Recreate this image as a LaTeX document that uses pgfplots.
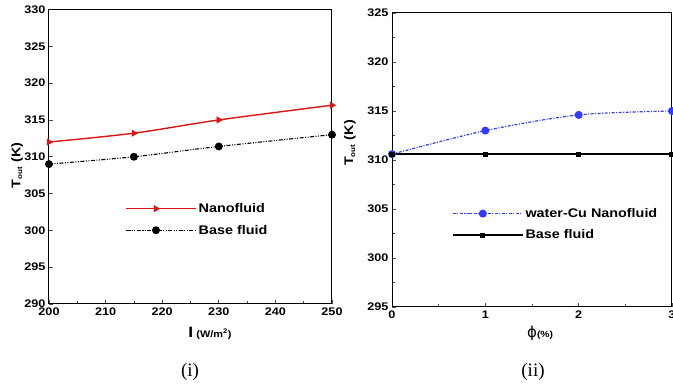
\documentclass[border=0pt]{standalone}
\usepackage{pgfplots}
\pgfplotsset{compat=1.18}
\usepackage{fontspec}
\setmainfont[FakeStretch=1.15]{Liberation Sans}
\newfontfamily\capfont{Liberation Serif}
\newfontfamily\dejavu{DejaVu Sans}
\usetikzlibrary{plotmarks}
\definecolor{myred}{RGB}{220,20,20}
\definecolor{myblue}{RGB}{50,60,255}
\pgfplotsset{
  mystyle/.style={
    scale only axis,
    axis line style={line width=1pt},
    tick pos=left,
    major tick length=4pt,
    minor tick length=3pt,
    tick style={line width=0.6pt, black!70},
    /pgf/number format/assume math mode=true,
    ticklabel style={font=\bfseries\fontsize{11}{13}\selectfont},
    legend style={draw=none, fill=none, inner sep=0pt, row sep=7pt,
      font=\bfseries\fontsize{12.5}{14}\selectfont},
    legend cell align=left,
    legend image code/.code={\path (0pt,0pt) -- (70pt,0pt);\draw[mark repeat=2,mark phase=2,#1] plot coordinates {(0pt,0pt) (30pt,0pt) (60pt,0pt)};},
  }
}
\begin{document}
\begin{tikzpicture}[x=1pt,y=1pt]
\useasboundingbox (0,0) rectangle (673,386);
% ---------- (i) ----------
\begin{axis}[mystyle,
  at={(49pt,82pt)}, anchor=south west,
  width=283pt, height=294.5pt,
  xmin=200, xmax=250, ymin=290, ymax=330,
  xtick={200,210,...,250}, ytick={290,295,...,330},
  minor x tick num=1,
  xlabel={{\bfseries\fontsize{15}{16}\selectfont I} {\bfseries\fontsize{9.5}{10}\selectfont(W/m\textsuperscript{2})}},
  xlabel style={at={(axis description cs:0.569,-0.098)}, anchor=center},
  ylabel={\bfseries\fontsize{12.5}{13}\selectfont T\textsubscript{\fontsize{7}{8}\selectfont out} (K)},
  ylabel style={at={(axis description cs:-0.113,0.47)}, anchor=center},
  legend style={at={(axis description cs:0.269,0.287)}, anchor=west},
]
\addplot[myred, line width=1.4pt, smooth, mark=triangle*, mark size=3.6pt, mark options={rotate=-90, solid, fill=myred, line width=0.5pt}]
  coordinates {(200,312) (215,313.2) (230,315) (250,317)};
\addlegendentry{Nanofluid}
\addplot[black, line width=1.1pt, smooth, dash pattern=on 4pt off 1.5pt on 1pt off 1.5pt on 1pt off 1.5pt, mark=*, mark size=3.4pt, mark options={solid}]
  coordinates {(200,309) (215,310) (230,311.4) (250,313)};
\addlegendentry{Base fluid}
\end{axis}
% ---------- (ii) ----------
\begin{axis}[mystyle,
  at={(392pt,79pt)}, anchor=south west,
  width=280pt, height=294pt,
  xmin=0, xmax=3, ymin=295, ymax=325,
  xtick={0,1,2,3}, ytick={295,300,...,325},
  minor x tick num=1, minor y tick num=1,
  xlabel={{\dejavu\fontsize{15}{16}\selectfont ϕ}{\bfseries\fontsize{9}{10}\selectfont(\%)}},
  xlabel style={at={(axis description cs:0.529,-0.088)}, anchor=center},
  ylabel={\bfseries\fontsize{12.5}{13}\selectfont T\textsubscript{\fontsize{7}{8}\selectfont out} (K)},
  ylabel style={at={(axis description cs:-0.15,0.558)}, anchor=center},
  legend style={at={(axis description cs:0.214,0.281)}, anchor=west},
]
\addplot[myblue, line width=1.2pt, smooth, dash pattern=on 3pt off 1.5pt on 1pt off 1.5pt, mark=*, mark size=3.4pt, mark options={solid, fill=myblue}]
  coordinates {(0,310.6) (1,313) (2,314.6) (3,315)};
\addlegendentry{water-Cu Nanofluid}
\addplot[black, line width=1.4pt, mark=square*, mark size=1.9pt, mark options={solid}]
  coordinates {(0,310.6) (1,310.6) (2,310.6) (3,310.6)};
\addlegendentry{Base fluid}
\end{axis}
\node[font=\capfont\fontsize{19}{21}\selectfont] at (190,14) {(i)};
\node[font=\capfont\fontsize{19}{21}\selectfont] at (533,14) {(ii)};
\end{tikzpicture}
\end{document}
